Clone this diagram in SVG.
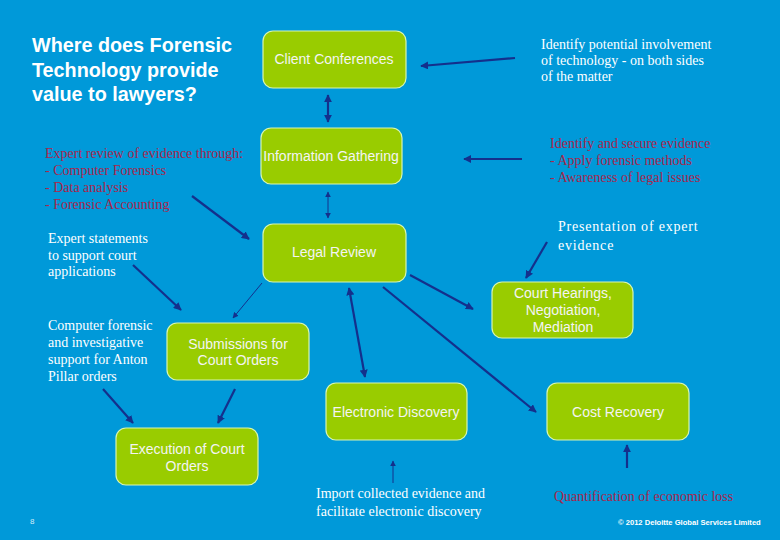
<svg xmlns="http://www.w3.org/2000/svg" width="780" height="540" viewBox="0 0 780 540">
<defs>
<style>
.box{fill:#99cc00;stroke:#d8f5b0;stroke-width:1.2}
.bt{font-family:"Liberation Sans",Arial,sans-serif;font-size:14px;fill:#f4f4f4;text-anchor:middle}
.an{font-family:"Liberation Serif","Times New Roman",serif;font-size:14px}
.w{fill:#ffffff}
.r{fill:#a8264c}
.c{stroke:#14308c;stroke-width:2.2;fill:none}
.ct{stroke:#14308c;stroke-width:1;fill:none}
</style>
<marker id="ah" viewBox="0 0 10 10" refX="9" refY="5" markerWidth="8" markerHeight="8" markerUnits="userSpaceOnUse" orient="auto-start-reverse">
<path d="M0,0 L10,5 L0,10 z" fill="#14308c"/>
</marker>
<marker id="ahs" viewBox="0 0 10 10" refX="9" refY="5" markerWidth="6" markerHeight="6" markerUnits="userSpaceOnUse" orient="auto-start-reverse">
<path d="M0,0 L10,5 L0,10 z" fill="#14308c"/>
</marker>
</defs>
<rect x="0" y="0" width="780" height="540" fill="#0099d9"/>

<g id="title">
<text font-family="Liberation Sans,Arial,sans-serif" font-weight="bold" font-size="19.8px" fill="#ffffff">
<tspan x="32" y="52">Where does Forensic</tspan>
<tspan x="32" y="77">Technology provide</tspan>
<tspan x="32" y="101">value to lawyers?</tspan>
</text>
</g>

<g id="connectors">
<line class="c" x1="515" y1="58" x2="421" y2="66" marker-end="url(#ah)"/>
<line class="c" x1="328" y1="95" x2="328" y2="122" marker-start="url(#ah)" marker-end="url(#ah)"/>
<line class="c" x1="522" y1="159" x2="464" y2="159" marker-end="url(#ah)"/>
<line class="ct" x1="328" y1="192" x2="328" y2="218" marker-start="url(#ahs)" marker-end="url(#ahs)"/>
<line class="c" x1="192" y1="196" x2="249" y2="239" marker-end="url(#ah)"/>
<line class="c" x1="133" y1="265" x2="181" y2="310" marker-end="url(#ah)"/>
<line class="ct" x1="262" y1="283" x2="233" y2="318" marker-end="url(#ahs)"/>
<line class="c" x1="410" y1="275" x2="473" y2="309" marker-end="url(#ah)"/>
<line class="c" x1="383" y1="287" x2="536" y2="412" marker-end="url(#ah)"/>
<line class="c" x1="349" y1="288" x2="365" y2="377" marker-start="url(#ah)" marker-end="url(#ah)"/>
<line class="c" x1="547" y1="242" x2="526" y2="278" marker-end="url(#ah)"/>
<line class="c" x1="103" y1="389" x2="133" y2="423" marker-end="url(#ah)"/>
<line class="c" x1="235" y1="389" x2="218" y2="423" marker-end="url(#ah)"/>
<line class="ct" x1="393" y1="483" x2="393" y2="461" marker-end="url(#ahs)"/>
<line class="c" x1="627" y1="468" x2="627" y2="445" marker-end="url(#ah)"/>
</g>

<g id="client-conferences">
<rect class="box" x="263" y="31" width="143" height="57" rx="10"/>
<text class="bt" x="334" y="64">Client Conferences</text>
</g>
<g id="information-gathering">
<rect class="box" x="261" y="128" width="141" height="56" rx="10"/>
<text class="bt" x="331" y="161">Information Gathering</text>
</g>
<g id="legal-review">
<rect class="box" x="263" y="224" width="143" height="58" rx="10"/>
<text class="bt" x="334" y="257">Legal Review</text>
</g>
<g id="court-hearings">
<rect class="box" x="492" y="282" width="141" height="56" rx="10"/>
<text class="bt"><tspan x="563" y="298">Court Hearings,</tspan><tspan x="563" y="315">Negotiation,</tspan><tspan x="563" y="332">Mediation</tspan></text>
</g>
<g id="submissions">
<rect class="box" x="167" y="323" width="142" height="57" rx="10"/>
<text class="bt"><tspan x="238" y="349">Submissions for</tspan><tspan x="238" y="365">Court Orders</tspan></text>
</g>
<g id="electronic-discovery">
<rect class="box" x="326" y="383" width="141" height="57" rx="10"/>
<text class="bt" x="396" y="417">Electronic Discovery</text>
</g>
<g id="cost-recovery">
<rect class="box" x="547" y="383" width="142" height="57" rx="10"/>
<text class="bt" x="618" y="417">Cost Recovery</text>
</g>
<g id="execution">
<rect class="box" x="116" y="428" width="142" height="57" rx="10"/>
<text class="bt"><tspan x="187" y="454">Execution of Court</tspan><tspan x="187" y="471">Orders</tspan></text>
</g>

<g id="annotations">
<text class="an w"><tspan x="541" y="49">Identify potential involvement</tspan><tspan x="541" y="65">of technology - on both sides</tspan><tspan x="541" y="81">of the matter</tspan></text>
<text class="an r"><tspan x="550" y="148">Identify and secure evidence</tspan><tspan x="550" y="165">- Apply forensic methods</tspan><tspan x="550" y="182">- Awareness of legal issues</tspan></text>
<text class="an w" font-size="15px" letter-spacing="0.8"><tspan x="558" y="231">Presentation of expert</tspan><tspan x="558" y="250">evidence</tspan></text>
<text class="an r"><tspan x="45" y="158">Expert review of evidence through:</tspan><tspan x="45" y="175">- Computer Forensics</tspan><tspan x="45" y="192">- Data analysis</tspan><tspan x="45" y="209">- Forensic Accounting</tspan></text>
<text class="an w"><tspan x="48" y="243">Expert statements</tspan><tspan x="48" y="260">to support court</tspan><tspan x="48" y="276">applications</tspan></text>
<text class="an w"><tspan x="48" y="330">Computer forensic</tspan><tspan x="48" y="347">and investigative</tspan><tspan x="48" y="364">support for Anton</tspan><tspan x="48" y="381">Pillar orders</tspan></text>
<text class="an w"><tspan x="316" y="498">Import collected evidence and</tspan><tspan x="316" y="516">facilitate electronic discovery</tspan></text>
<text class="an r" x="554" y="501">Quantification of economic loss</text>
<text x="618" y="525" font-family="Liberation Sans,Arial,sans-serif" font-size="7.6px" font-weight="bold" fill="#ffffff">© 2012 Deloitte Global Services Limited</text>
<text x="30" y="524" font-family="Liberation Sans,Arial,sans-serif" font-size="8px" fill="#d0ecf8">8</text>
</g>
</svg>
